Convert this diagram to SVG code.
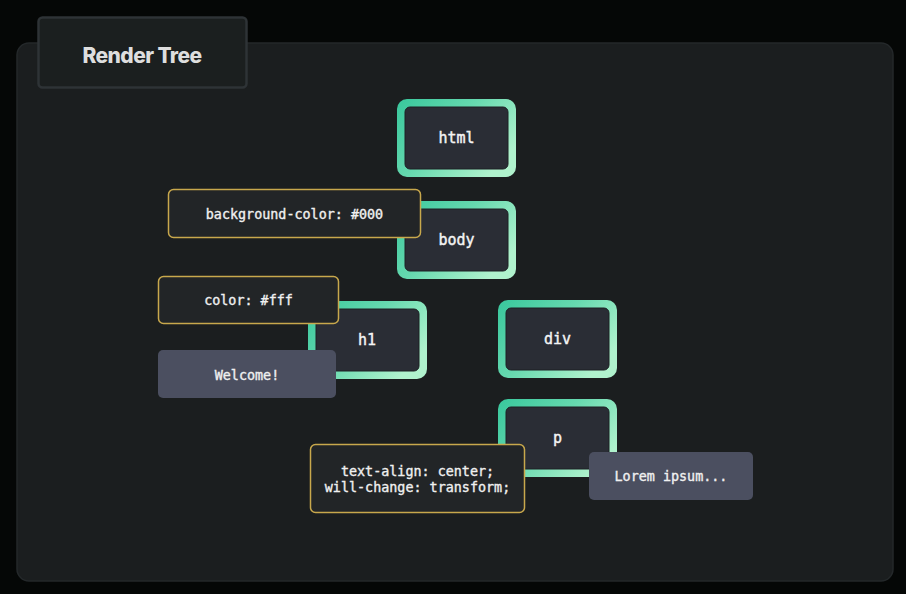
<svg xmlns="http://www.w3.org/2000/svg" width="906" height="594" viewBox="0 0 906 594">
<defs>
<linearGradient id="g" x1="0" y1="0" x2="1" y2="0.6">
<stop offset="0" stop-color="#38c79c"/>
<stop offset="0.5" stop-color="#66d9af"/>
<stop offset="1" stop-color="#b0f2cd"/>
</linearGradient>
<style>
.ring{fill:url(#g)}
.core{fill:#2a2d35;stroke:#1d2125;stroke-width:1}
.nt{font-family:"DejaVu Sans Mono",monospace;font-size:15px;fill:#f4f4f4;stroke:#f4f4f4;stroke-width:0.4;text-anchor:middle;dominant-baseline:central}
.st{fill:#222527;stroke:#c8a84c;stroke-width:1.5}
.ct{fill:#4b4f60}
.lt{font-family:"DejaVu Sans Mono",monospace;font-size:13.4px;fill:#f0f0f0;stroke:#f0f0f0;stroke-width:0.35;text-anchor:middle;dominant-baseline:central}
</style>
</defs>
<rect width="906" height="594" fill="#050706"/>
<rect x="17" y="43" width="876" height="538" rx="12" fill="#1b1e1f" stroke="#24282a" stroke-width="1.5"/>
<g id="title">
<rect x="38.5" y="17.5" width="208" height="70" rx="4" fill="#1b1f1f" stroke="#2e3336" stroke-width="2.5"/>
<text x="142" y="55" font-family="Inter, 'Liberation Sans', sans-serif" font-size="21" font-weight="800" fill="#dedede" text-anchor="middle" dominant-baseline="central" letter-spacing="-0.6">Render Tree</text>
</g>
<g id="connectors"/>
<g id="node-html">
<rect class="ring" x="397" y="99" width="119" height="78" rx="10"/>
<rect class="core" x="405" y="107" width="103" height="62" rx="5"/>
<text class="nt" x="456.5" y="138">html</text>
</g>
<g id="node-body">
<rect class="ring" x="397" y="201" width="119" height="78" rx="10"/>
<rect class="core" x="405" y="209" width="103" height="62" rx="5"/>
<text class="nt" x="456.5" y="240">body</text>
</g>
<g id="style-body">
<rect class="st" x="168.5" y="189.5" width="252" height="48" rx="5"/>
<text class="lt" x="294.5" y="214">background-color: #000</text>
</g>
<g id="node-h1">
<rect class="ring" x="308" y="301" width="119" height="78" rx="10"/>
<rect class="core" x="316" y="309" width="103" height="62" rx="5"/>
<text class="nt" x="367" y="340">h1</text>
</g>
<g id="style-h1">
<rect class="st" x="158.5" y="276.5" width="180" height="47" rx="5"/>
<text class="lt" x="248.5" y="300">color: #fff</text>
</g>
<g id="content-h1">
<rect class="ct" x="158" y="350" width="178" height="48" rx="5"/>
<text class="lt" x="247" y="375">Welcome!</text>
</g>
<g id="node-div">
<rect class="ring" x="498" y="300" width="119" height="78" rx="10"/>
<rect class="core" x="506" y="308" width="103" height="62" rx="5"/>
<text class="nt" x="557.5" y="339">div</text>
</g>
<g id="node-p">
<rect class="ring" x="498" y="399" width="119" height="78" rx="10"/>
<rect class="core" x="506" y="407" width="103" height="62" rx="5"/>
<text class="nt" x="557.5" y="438">p</text>
</g>
<g id="style-p">
<rect class="st" x="310.5" y="444.5" width="214" height="68" rx="5"/>
<text class="lt" x="417.5" y="471">text-align: center;</text>
<text class="lt" x="417.5" y="487">will-change: transform;</text>
</g>
<g id="content-p">
<rect class="ct" x="589" y="452" width="164" height="48" rx="5"/>
<text class="lt" x="671" y="476">Lorem ipsum...</text>
</g>
</svg>
